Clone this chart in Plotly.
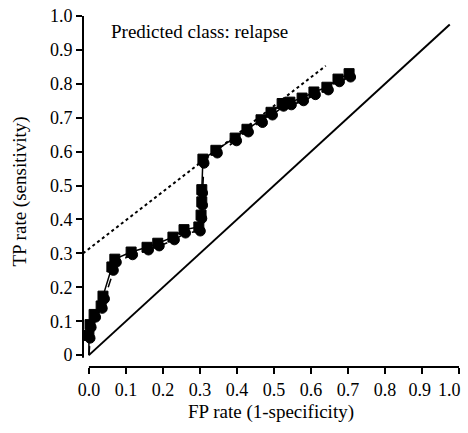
import plotly.graph_objects as go

# Series 1: squares, solid line
sq_x = [0, 0.0, 0.003, 0.014, 0.033, 0.038, 0.062, 0.07, 0.114, 0.157, 0.186, 0.227, 0.257,
        0.297, 0.303, 0.305, 0.305, 0.308, 0.343, 0.395, 0.427, 0.465, 0.492, 0.522, 0.543,
        0.576, 0.608, 0.643, 0.673, 0.703]
sq_y = [0, 0.058, 0.09, 0.12, 0.145, 0.174, 0.26, 0.283, 0.304, 0.318, 0.33, 0.348, 0.37,
        0.378, 0.413, 0.452, 0.488, 0.578, 0.604, 0.64, 0.666, 0.694, 0.716, 0.742, 0.746,
        0.758, 0.776, 0.79, 0.814, 0.83]

# Series 2: circles, dashed line
ci_x = [0, 0.003, 0.006, 0.018, 0.036, 0.042, 0.066, 0.074, 0.118, 0.161, 0.19, 0.231, 0.261,
        0.301, 0.305, 0.307, 0.307, 0.311, 0.347, 0.399, 0.431, 0.469, 0.496, 0.526, 0.547,
        0.58, 0.612, 0.647, 0.677, 0.707]
ci_y = [0, 0.05, 0.082, 0.112, 0.138, 0.166, 0.25, 0.274, 0.296, 0.31, 0.322, 0.34, 0.36,
        0.366, 0.403, 0.442, 0.478, 0.566, 0.596, 0.632, 0.658, 0.686, 0.708, 0.734, 0.738,
        0.75, 0.768, 0.782, 0.806, 0.82]

# Reference lines
diag_x = [0, 0.975]
diag_y = [0, 0.975]
fit_x = [-0.016, 0.64]
fit_y = [0.30, 0.853]

NB = "\u00a0"
x_ticks = [0.0, 0.1, 0.2, 0.3, 0.4, 0.5, 0.6, 0.7, 0.8, 0.9, 1.0]
x_ticktext = ["0.0", "0.1", "0.2", "0.3", "0.4", "0.5", "0.6", "0.7", "0.8", "0.9" + NB, ""]
x_last_label = "1.0"
y_ticks = [0.0, 0.1, 0.2, 0.3, 0.4, 0.5, 0.6, 0.7, 0.8, 0.9, 1.0]
y_ticktext = ["0", "0.1", "0.2", "0.3", "0.4", "0.5", "0.6", "0.7", "0.8", "0.9", "1.0"]

FONT = "Liberation Serif"

sizes_sq = [0] + [10] * (len(sq_x) - 1)
sizes_ci = [0] + [10] * (len(ci_x) - 1)

fig = go.Figure()
fig.add_trace(go.Scatter(x=diag_x, y=diag_y, mode="lines",
                         line=dict(color="black", width=2), showlegend=False))
fig.add_trace(go.Scatter(x=fit_x, y=fit_y, mode="lines",
                         line=dict(color="black", width=2, dash="dot"), showlegend=False))
fig.add_trace(go.Scatter(x=ci_x, y=ci_y, mode="lines+markers",
                         line=dict(color="black", width=1.5, dash="dash"),
                         marker=dict(symbol="circle", size=sizes_ci, color="black", opacity=1,
                                     line=dict(color="black", width=1)),
                         showlegend=False))
fig.add_trace(go.Scatter(x=sq_x, y=sq_y, mode="lines+markers",
                         line=dict(color="black", width=1.5),
                         marker=dict(symbol="square", size=sizes_sq, color="black", opacity=1,
                                     line=dict(color="black", width=1)),
                         showlegend=False))

fig.add_annotation(x=0.054, y=0.953, xref="x", yref="y", text="Predicted class: relapse",
                   showarrow=False, xanchor="left", yanchor="middle",
                   font=dict(family=FONT, size=19, color="black"))

# last x tick label, nudged left so it stays inside the page
fig.add_annotation(x=x_ticks[-1], y=0, xref="x", yref="paper", text=x_last_label,
                   showarrow=False, xanchor="right", yanchor="top", xshift=4, yshift=-11,
                   font=dict(family=FONT, size=18, color="black"))

# Offset axis lines (Prism style)
fig.add_shape(type="line", xref="paper", yref="y", x0=0, x1=0, y0=-0.008, y1=1.0,
              line=dict(color="black", width=2))
fig.add_shape(type="line", xref="x", yref="paper", x0=0, x1=1.0, y0=0, y1=0,
              line=dict(color="black", width=2))

fig.update_layout(
    width=468, height=433,
    margin=dict(l=83, r=9, t=16, b=66),
    paper_bgcolor="white", plot_bgcolor="white",
    font=dict(family=FONT, size=18, color="black"),
    xaxis=dict(range=[-0.016, 1.0], tickvals=x_ticks, ticktext=x_ticktext,
               showgrid=False, zeroline=False, showline=False, automargin=False,
               ticks="outside", ticklen=6, tickwidth=2, tickcolor="black",
               tickfont=dict(family=FONT, size=18),
               title=dict(text="FP rate (1-specificity)", font=dict(family=FONT, size=19),
                          standoff=6)),
    yaxis=dict(range=[-0.035, 1.0], tickvals=y_ticks, ticktext=y_ticktext,
               showgrid=False, zeroline=False, showline=False, automargin=False,
               ticks="outside", ticklen=6, tickwidth=2, tickcolor="black",
               tickfont=dict(family=FONT, size=18),
               title=dict(text="TP rate (sensitivity)", font=dict(family=FONT, size=19),
                          standoff=18)),
)

fig.write_html("out.html")
